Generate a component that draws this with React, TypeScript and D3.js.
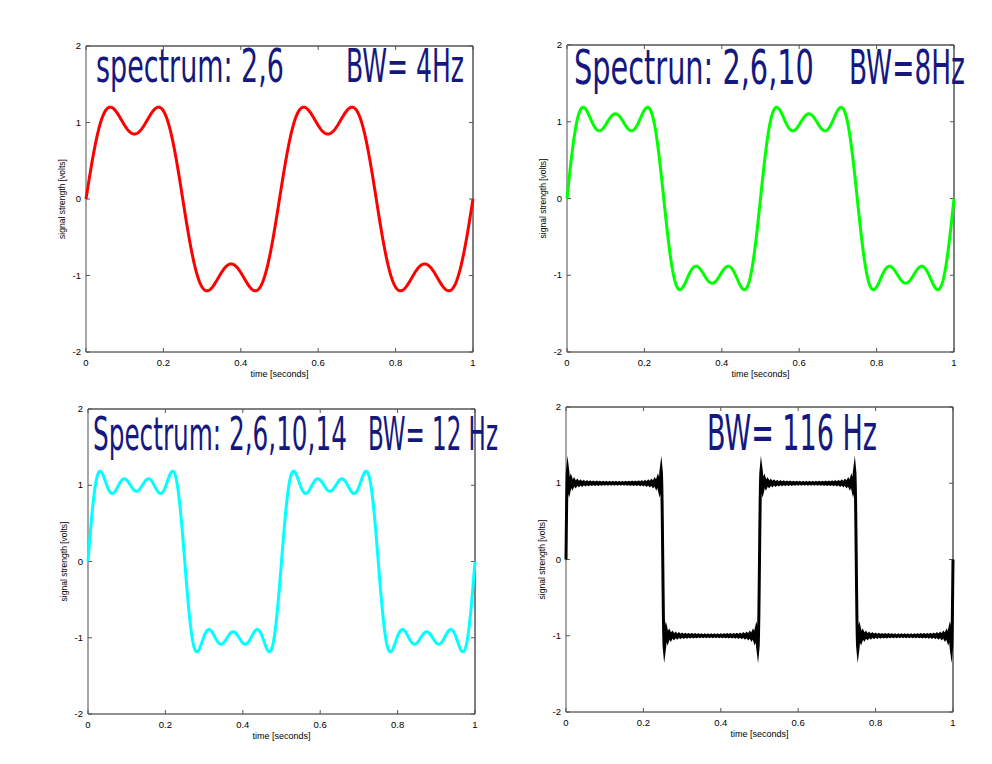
import React, { useLayoutEffect, useRef, useState } from "react";
import * as d3 from "d3";

// Spectra (Hz) of the odd-harmonic square-wave approximations, fundamental 2 Hz
const spectrumA = [2, 6];
const spectrumB = [2, 6, 10];
const spectrumC = [2, 6, 10, 14];
const spectrumD = [2, 6, 10, 14, 18, 22, 26, 30, 34, 38, 42, 46, 50, 54, 58, 62, 66, 70, 74, 78, 82, 86, 90, 94, 98, 102, 106, 110, 114, 118];
const fundamentalHz = 2;

const xTicks = [0, 0.2, 0.4, 0.6, 0.8, 1];
const xTickLabels = ["0", "0.2", "0.4", "0.6", "0.8", "1"];
const yTicks = [-2, -1, 0, 1, 2];
const yTickLabels = ["-2", "-1", "0", "1", "2"];

const noteA = ["spectrum: 2,6", "BW= 4Hz"];
const noteB = ["Spectrun: 2,6,10", "BW=8Hz"];
const noteC = ["Spectrum: 2,6,10,14", "BW= 12 Hz"];
const noteD = ["", "BW= 116 Hz"];

const xLabel = "time [seconds]";
const yLabel = "signal strength [volts]";

function synth(spectrum: number[], n: number) {
  const pts: [number, number][] = [];
  for (let i = 0; i <= n; i++) {
    const t = i / n;
    let v = 0;
    for (const f of spectrum) {
      const k = f / fundamentalHz;
      v += (4 / (Math.PI * k)) * Math.sin(2 * Math.PI * f * t);
    }
    pts.push([t, v]);
  }
  return pts;
}

type PanelDef = {
  x0: number; x1: number; y0: number; y1: number;
  spectrum: number[]; color: string; width: number; samples: number; join: string;
  note: string[];
  n1: [number, number, number]; // x, baseline, length
  n2: [number, number, number];
  size: number;
};

const panels: PanelDef[] = [
  { x0: 86, x1: 473, y0: 46, y1: 352, spectrum: spectrumA, color: "#ff0000", width: 3, samples: 800, join: "round", note: noteA, n1: [96, 82, 188], n2: [346, 82, 118], size: 46 },
  { x0: 567, x1: 954, y0: 45, y1: 352, spectrum: spectrumB, color: "#00ff00", width: 3, samples: 800, join: "round", note: noteB, n1: [574, 84, 240], n2: [849, 84, 116], size: 48 },
  { x0: 88, x1: 475, y0: 409, y1: 714, spectrum: spectrumC, color: "#00ffff", width: 3, samples: 800, join: "round", note: noteC, n1: [93, 450, 254], n2: [368, 450, 130], size: 46 },
  { x0: 566, x1: 953, y0: 407, y1: 712, spectrum: spectrumD, color: "#000000", width: 3, samples: 1200, join: "miter", note: noteD, n1: [0, 0, 0], n2: [707, 450, 170], size: 50 },
];

const tickFont = "'Liberation Sans', Arial, sans-serif";
const handFont = "'Liberation Sans Narrow', 'DejaVu Sans Condensed', sans-serif";
const ink = "#14187f";

function HandText({ text, x, y, len, size }: { text: string; x: number; y: number; len: number; size: number }) {
  const ref = useRef<SVGTextElement>(null);
  const [sx, setSx] = useState(1);
  useLayoutEffect(() => {
    if (ref.current) {
      const w = ref.current.getComputedTextLength();
      if (w > 0) setSx(len / w);
    }
  }, [text, len, size]);
  return (
    <text ref={ref} transform={`translate(${x},${y}) scale(${sx},1)`} fontSize={size} fontFamily={handFont} fill={ink}>{text}</text>
  );
}

function Panel({ p }: { p: PanelDef }) {
  const x = d3.scaleLinear().domain([0, 1]).range([p.x0, p.x1]);
  const y = d3.scaleLinear().domain([-2, 2]).range([p.y1, p.y0]);
  const data = synth(p.spectrum, p.samples);
  const line = d3.line<[number, number]>().x((d) => x(d[0])).y((d) => y(d[1]));
  const tl = 4;
  return (
    <g>
      <line x1={p.x0} y1={p.y0} x2={p.x1} y2={p.y0} stroke="#000" strokeWidth={1} />
      <line x1={p.x1} y1={p.y0} x2={p.x1} y2={p.y1} stroke="#000" strokeWidth={1} />
      <line x1={p.x0} y1={p.y1} x2={p.x1} y2={p.y1} stroke="#222" strokeWidth={1} />
      <line x1={p.x0} y1={p.y0} x2={p.x0} y2={p.y1} stroke="#888" strokeWidth={1.5} />
      {xTicks.map((t, i) => (
        <g key={"xt" + i}>
          <line x1={x(t)} x2={x(t)} y1={p.y1} y2={p.y1 - tl} stroke="#555" />
          <line x1={x(t)} x2={x(t)} y1={p.y0} y2={p.y0 + tl} stroke="#555" />
          <text x={x(t)} y={p.y1 + 14} fontSize={9.5} fontFamily={tickFont} textAnchor="middle" fill="#000">{xTickLabels[i]}</text>
        </g>
      ))}
      {yTicks.map((t, i) => (
        <g key={"yt" + i}>
          <line x1={p.x0} x2={p.x0 + tl} y1={y(t)} y2={y(t)} stroke="#555" />
          <line x1={p.x1} x2={p.x1 - tl} y1={y(t)} y2={y(t)} stroke="#555" />
          <text x={p.x0 - 5} y={y(t) + 3} fontSize={9.5} fontFamily={tickFont} textAnchor="end" fill="#000">{yTickLabels[i]}</text>
        </g>
      ))}
      <text x={(p.x0 + p.x1) / 2} y={p.y1 + 25} fontSize={9} fontFamily={tickFont} textAnchor="middle" fill="#000">{xLabel}</text>
      <text transform={`translate(${p.x0 - 21},${(p.y0 + p.y1) / 2}) rotate(-90)`} fontSize={8.5} fontFamily={tickFont} textAnchor="middle" fill="#000">{yLabel}</text>
      <path d={line(data) || ""} fill="none" stroke={p.color} strokeWidth={p.width} strokeLinejoin={p.join as any} strokeMiterlimit={24} />
      {p.note[0] && <HandText text={p.note[0]} x={p.n1[0]} y={p.n1[1]} len={p.n1[2]} size={p.size} />}
      {p.note[1] && <HandText text={p.note[1]} x={p.n2[0]} y={p.n2[1]} len={p.n2[2]} size={p.size} />}
    </g>
  );
}

export default function App() {
  return (
    <svg width={992} height={764} style={{ position: "absolute", left: 0, top: 0, background: "#fff" }}>
      <rect width={992} height={764} fill="#fff" />
      {panels.map((p, i) => <Panel key={i} p={p} />)}
    </svg>
  );
}
